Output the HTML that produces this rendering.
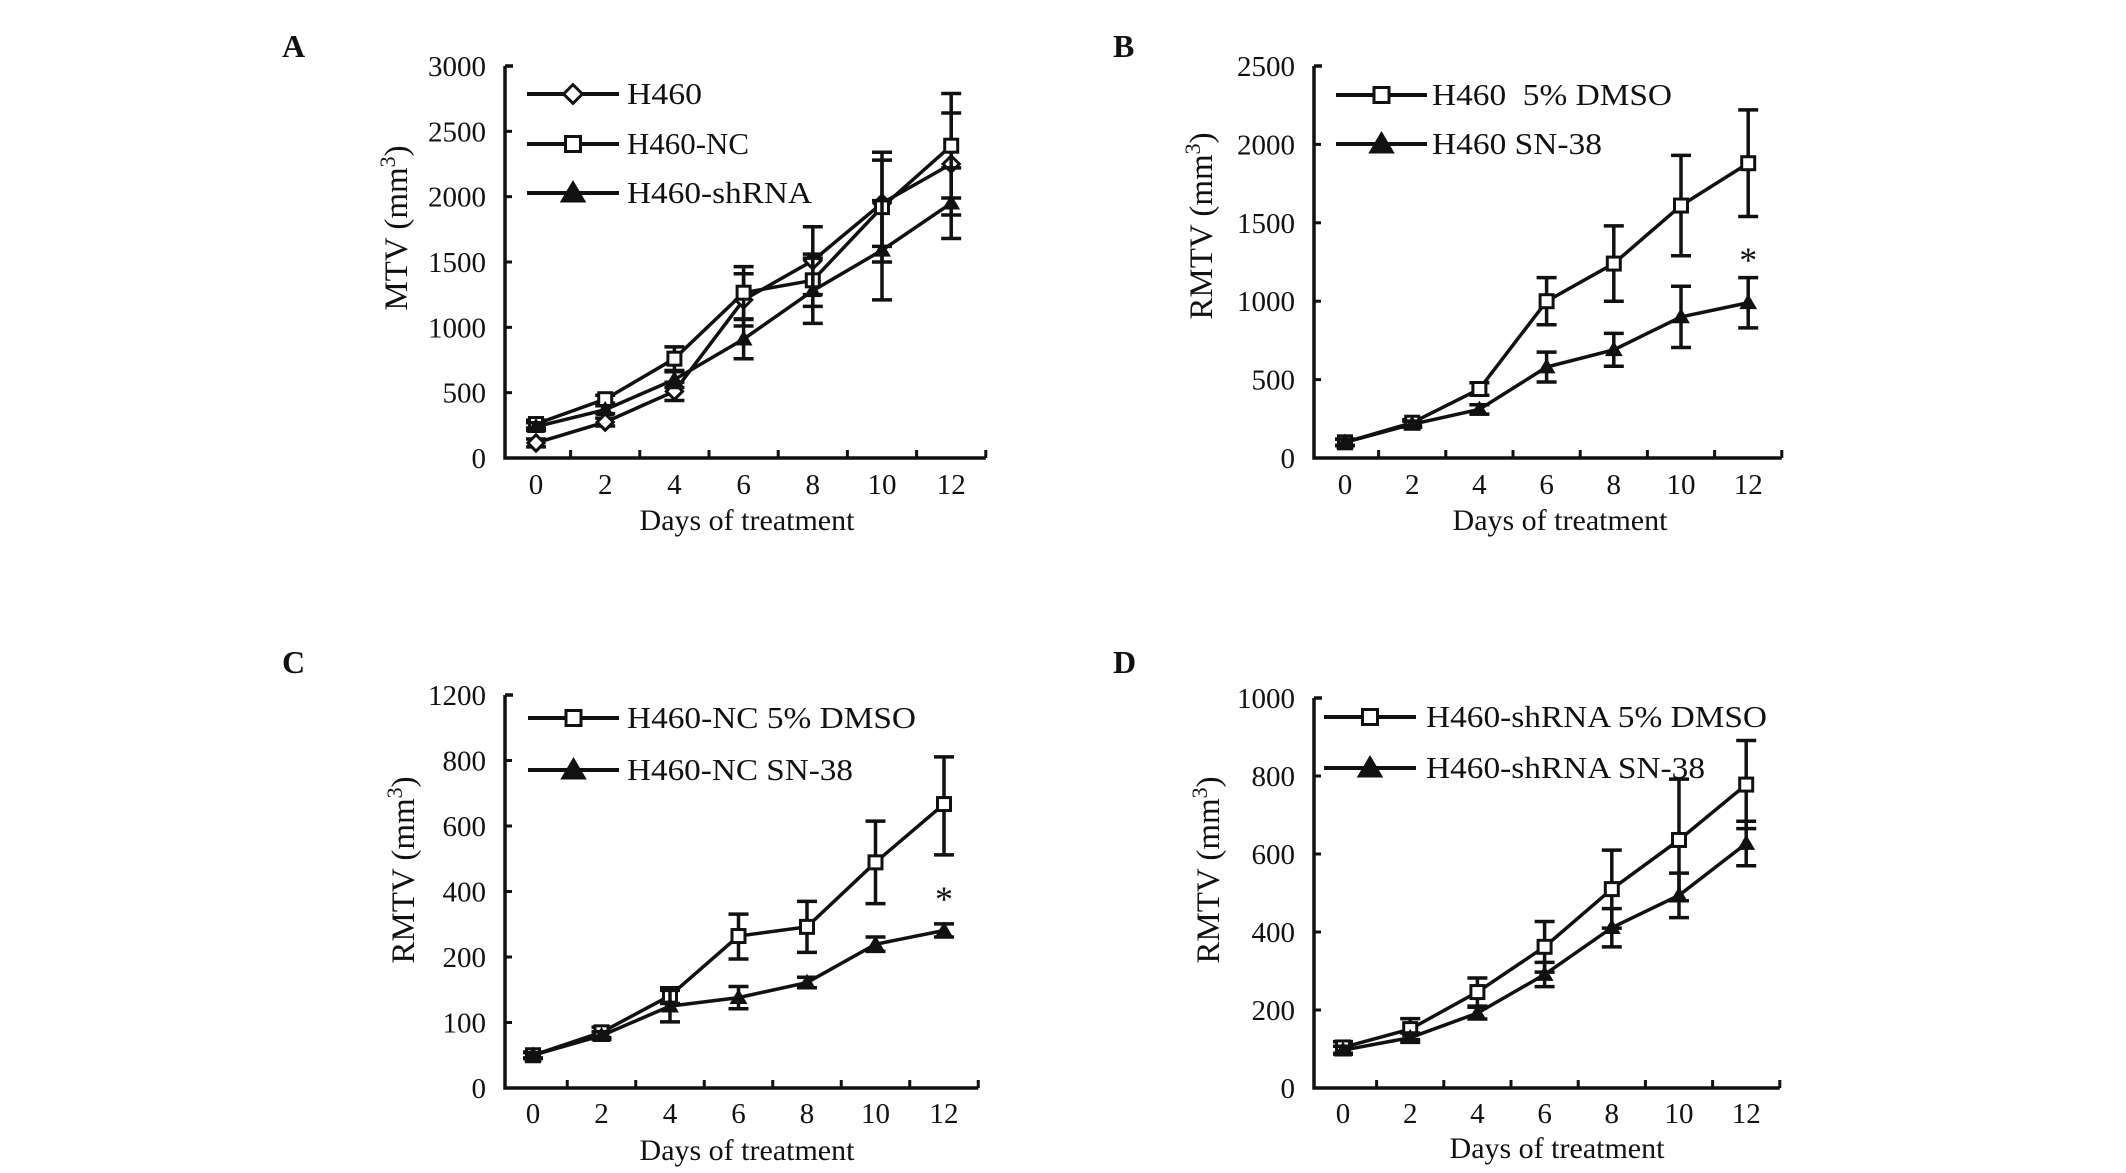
<!DOCTYPE html>
<html><head><meta charset="utf-8"><style>
html,body{margin:0;padding:0;background:#fff;}
svg{display:block;}
text{font-family:"Liberation Serif",serif;fill:#111;}
</style></head><body>
<svg id="fig" width="2126" height="1173" viewBox="0 0 2126 1173" xmlns="http://www.w3.org/2000/svg"></svg>
<script>
const days=[0,2,4,6,8,10,12];
const aTicks=[0,500,1000,1500,2000,2500,3000];
const bTicks=[0,500,1000,1500,2000,2500];
const cTicks=[0,100,200,400,600,800,1200];
const dTicks=[0,200,400,600,800,1000];
const aH460=[115,275,510,1210,1510,1950,2250];
const aH460Err=[30,30,70,200,260,330,390];
const aNC=[260,450,760,1265,1360,1920,2390];
const aNCErr=[30,30,90,200,200,420,400];
const aSh=[240,370,600,910,1280,1590,1950];
const aShErr=[30,30,60,150,250,380,270];
const bD=[100,225,440,1000,1240,1610,1880];
const bDErr=[20,20,40,150,240,320,340];
const bS=[100,215,310,580,690,900,990];
const bSErr=[20,20,30,95,105,195,160];
const cD=[50,85,141,264,292,489,667];
const cDErr=[5,8,12,67,78,126,155];
const cS=[50,80,125,138,161,239,281];
const cSErr=[4,6,24,17,8,22,20];
const dD=[104,151,246,362,510,636,778];
const dDErr=[15,27,36,65,100,156,113];
const dS=[97,129,192,291,411,494,627];
const dSErr=[10,12,15,31,49,57,57];

const NS="http://www.w3.org/2000/svg";
const svg=document.getElementById('fig');
function mk(tag,attrs,parent){const e=document.createElementNS(NS,tag);for(const k in attrs)e.setAttribute(k,attrs[k]);(parent||svg).appendChild(e);return e;}

const panels=[
 {id:'a',letter:'A',lx:282,ly:57,ax:505,top:66,bot:458,x0:536,dx:69.2,ticks:aTicks,ylab:'MTV',ylx:395,yly:228,
  legY:[94,144,193],legX1:527,legX2:619,legTX:627,xlab:747,xlabY:530,tickY:494,star:null,
  series:[{name:'H460',v:aH460,e:aH460Err,m:'diamond',tl:75},{name:'H460-NC',v:aNC,e:aNCErr,m:'square',tl:122},{name:'H460-shRNA',v:aSh,e:aShErr,m:'triangle',tl:185}]},
 {id:'b',letter:'B',lx:1113,ly:57,ax:1314,top:66,bot:458,x0:1345,dx:67.2,ticks:bTicks,ylab:'RMTV',ylx:1200,yly:226,
  legY:[95,144],legX1:1336,legX2:1427,legTX:1432,xlab:1560,xlabY:530,tickY:494,star:1300,
  series:[{name:'H460\u00a0 5% DMSO',v:bD,e:bDErr,m:'square',tl:240},{name:'H460 SN-38',v:bS,e:bSErr,m:'triangle',tl:170}]},
 {id:'c',letter:'C',lx:282,ly:673,ax:505,top:695,bot:1088,x0:533,dx:68.5,ticks:cTicks,ylab:'RMTV',ylx:402,yly:870,
  legY:[718,770],legX1:528,legX2:619,legTX:627,xlab:747,xlabY:1160,tickY:1123,star:395,
  series:[{name:'H460-NC 5% DMSO',v:cD,e:cDErr,m:'square',tl:289},{name:'H460-NC SN-38',v:cS,e:cSErr,m:'triangle',tl:226}]},
 {id:'d',letter:'D',lx:1113,ly:673,ax:1314,top:698,bot:1088,x0:1343,dx:67.2,ticks:dTicks,ylab:'RMTV',ylx:1207,yly:870,
  legY:[717,768],legX1:1324,legX2:1416,legTX:1426,xlab:1557,xlabY:1158,tickY:1123,star:null,
  series:[{name:'H460-shRNA 5% DMSO',v:dD,e:dDErr,m:'square',tl:341},{name:'H460-shRNA SN-38',v:dS,e:dSErr,m:'triangle',tl:279}]}
];

function marker(g,type,x,y,s,name){
  let el;
  if(type==='square'){el=mk('rect',{x:x-s/2,y:y-s/2,width:s,height:s,fill:'#fff',stroke:'#111','stroke-width':3},g);}
  else if(type==='diamond'){el=mk('polygon',{points:`${x},${y-s/1.6} ${x+s/1.6},${y} ${x},${y+s/1.6} ${x-s/1.6},${y}`,fill:'#fff',stroke:'#111','stroke-width':3},g);}
  else {el=mk('polygon',{points:`${x},${y-s*0.6} ${x+s*0.62},${y+s*0.45} ${x-s*0.62},${y+s*0.45}`,fill:'#111',stroke:'#111','stroke-width':1},g);}
  
  
  return el;
}

panels.forEach(p=>{
  const g=mk('g',{});
  
  
  const n=p.ticks.length-1, step=(p.bot-p.top)/n;
  const ys=v=>{let i=0;while(i<n-1&&v>p.ticks[i+1])i++;const t=(v-p.ticks[i])/(p.ticks[i+1]-p.ticks[i]);return p.bot-(i+t)*step;};
  const xs=d=>p.x0+p.dx*d/2;
  const lt=mk('text',{x:p.lx,y:p.ly,'font-size':32,'font-weight':'bold'},g);lt.textContent=p.letter;
  
  const xEnd=xs(13);
  const axes=mk('path',{d:`M${p.ax},${p.top} V${p.bot} H${xEnd} M${p.ax},${p.top} h8`,fill:'none',stroke:'#111','stroke-width':3.5},g);
  
  p.ticks.forEach((t,i)=>{
    const y=p.bot-i*step;
    const tk=mk('line',{x1:p.ax,x2:p.ax+7,y1:y,y2:y,stroke:'#111','stroke-width':3},g);
    
    const tl=mk('text',{x:p.ax-19,y:y+10,'font-size':29,'text-anchor':'end'},g);tl.textContent=t;
    
  });
  for(let k=1;k<=13;k+=2){
    const x=xs(k);
    const tk=mk('line',{x1:x,x2:x,y1:p.bot,y2:p.bot-8,stroke:'#111','stroke-width':3},g);
    
  }
  days.forEach(d=>{
    const tl=mk('text',{x:xs(d),y:p.tickY,'font-size':29,'text-anchor':'middle'},g);tl.textContent=d;
    
  });
  const xl=mk('text',{x:p.xlab,y:p.xlabY,'font-size':30,'text-anchor':'middle'},g);xl.textContent='Days of treatment';
  
  const yl=mk('text',{x:0,y:0,'font-size':33,'text-anchor':'middle',transform:`translate(${p.ylx+12},${p.yly}) rotate(-90)`},g);
  yl.textContent=p.ylab+' (mm';
  const sup=mk('tspan',{'font-size':22,dy:-12},yl);sup.textContent='3';
  const cl=mk('tspan',{dy:12},yl);cl.textContent=')';
  
  p.series.forEach((s,si)=>{
    const sg=mk('g',{},g);
    
    days.forEach((d,i)=>{
      const x=xs(d),y1=ys(s.v[i]+s.e[i]),y2=ys(Math.max(0,s.v[i]-s.e[i]));
      const eb=mk('path',{d:`M${x},${y1} V${y2} M${x-10},${y1} h20 M${x-10},${y2} h20`,stroke:'#111','stroke-width':3.5,fill:'none'},sg);
      
    });
    const ln=mk('polyline',{points:days.map((d,i)=>xs(d)+','+ys(s.v[i])).join(' '),fill:'none',stroke:'#111','stroke-width':3.5},sg);
    
    days.forEach((d,i)=>marker(sg,s.m,xs(d),ys(s.v[i]),13,'data-point'));
    const ly=p.legY[si];
    const lg=mk('g',{},g);
    mk('line',{x1:p.legX1,x2:p.legX2,y1:ly,y2:ly,stroke:'#111','stroke-width':4},lg);
    marker(lg,s.m,(p.legX1+p.legX2)/2,ly,s.m==='triangle'?20:15,'legend-marker');
    const lt2=mk('text',{x:p.legTX,y:ly+10,'font-size':31,textLength:s.tl,lengthAdjust:'spacingAndGlyphs'},lg);lt2.textContent=s.name;
    
  });
  if(p.star!==null){
    const st=mk('text',{x:xs(12),y:ys(p.star)+18,'font-size':36,'text-anchor':'middle'},g);st.textContent='*';
    
  }
});
</script>
</body></html>
